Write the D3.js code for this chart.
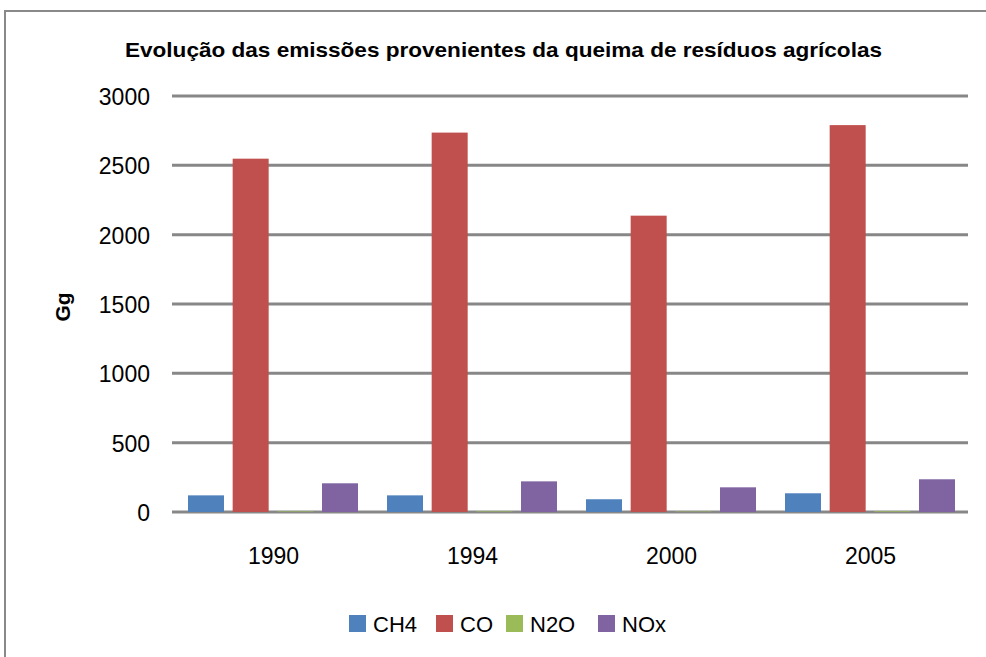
<!DOCTYPE html>
<html lang="pt">
<head>
<meta charset="utf-8">
<script src="https://cdn.jsdelivr.net/npm/d3@7"></script>
<style type="text/css">
body {
	margin: 0;
	background-color: #ffffff;
	font-family: 'Liberation Sans', Arial, sans-serif;
}
.grid line {
	stroke: #878787;
	stroke-width: 3;
}
.axis text {
	fill: #000;
}
</style>
</head>
<body>
<script type="text/javascript">

// data (Gg)
var years = ["1990", "1994", "2000", "2005"];
var series = ["CH4", "CO", "N2O", "NOx"];
var ch4 = [120, 120, 92, 135];
var co = [2548, 2736, 2137, 2790];
var n2o = [4, 4, 3, 5];
var nox = [207, 221, 178, 236];
var yTicks = [0, 500, 1000, 1500, 2000, 2500, 3000];
var colors = ["#4F81BD", "#C0504D", "#9BBB59", "#8064A2"];

var values = { CH4: ch4, CO: co, N2O: n2o, NOx: nox };

var width = 986, height = 657;

var svg = d3.select("body")
	.append("svg")
	.attr("width", width)
	.attr("height", height);

// chart frame
svg.append("rect")
	.attr("x", 5)
	.attr("y", 11)
	.attr("width", 1000)
	.attr("height", 700)
	.style("fill", "none")
	.style("stroke", "#898989")
	.style("stroke-width", 2);

// title
svg.append("text")
	.attr("x", 125)
	.attr("y", 57)
	.attr("textLength", 757)
	.attr("lengthAdjust", "spacingAndGlyphs")
	.style("font-size", "21px")
	.style("font-weight", "bold")
	.text("Evolução  das emissões provenientes da queima de resíduos agrícolas");

var x0 = d3.scaleBand()
	.domain(years)
	.range([172, 968])
	.padding(0);

var x1 = d3.scaleBand()
	.domain(series)
	.range([16, 186])
	.paddingInner(0.194)
	.paddingOuter(0);

var y = d3.scaleLinear()
	.domain([0, 3000])
	.range([512, 96]);

// gridlines
svg.append("g")
	.attr("class", "grid")
	.selectAll("line")
	.data(yTicks)
	.enter()
	.append("line")
	.attr("x1", 172)
	.attr("x2", 968)
	.attr("y1", function(d) { return y(d); })
	.attr("y2", function(d) { return y(d); });

// y axis labels
var yAxis = d3.axisLeft(y).tickValues(yTicks).tickFormat(d3.format("d")).tickSize(0).tickPadding(22);
svg.append("g")
	.attr("class", "axis")
	.attr("transform", "translate(172,0)")
	.call(yAxis)
	.call(function(g) { g.select(".domain").remove(); })
	.selectAll("text")
	.style("font-family", "'Liberation Sans', Arial, sans-serif")
	.style("font-size", "23px")
	.attr("dy", "0.37em");

// bars
var groups = svg.append("g")
	.selectAll("g")
	.data(years)
	.enter()
	.append("g")
	.attr("transform", function(d) { return "translate(" + x0(d) + ",0)"; });

groups.selectAll("rect")
	.data(function(d, i) {
		return series.map(function(s, k) { return { key: s, value: values[s][i], color: colors[k] }; });
	})
	.enter()
	.append("rect")
	.attr("x", function(d) { return x1(d.key); })
	.attr("width", x1.bandwidth())
	.attr("y", function(d) { return y(d.value); })
	.attr("height", function(d) { return y(0) - y(d.value); })
	.style("fill", function(d) { return d.color; });

// x axis labels
var xAxis = d3.axisBottom(x0).tickSize(0).tickPadding(0);
svg.append("g")
	.attr("class", "axis")
	.attr("transform", "translate(2,0)")
	.call(xAxis)
	.call(function(g) { g.select(".domain").remove(); })
	.selectAll("text")
	.style("font-family", "'Liberation Sans', Arial, sans-serif")
	.style("font-size", "23px")
	.attr("y", 564)
	.attr("dy", 0);

// y axis title
svg.append("text")
	.attr("transform", "translate(70,307) rotate(-90)")
	.attr("text-anchor", "middle")
	.style("font-size", "21px")
	.style("font-weight", "bold")
	.text("Gg");

// legend
var legendX = [349, 436, 506, 598];
var legend = svg.append("g")
	.selectAll("g")
	.data(series)
	.enter()
	.append("g")
	.attr("transform", function(d, i) { return "translate(" + legendX[i] + ",615)"; });

legend.append("rect")
	.attr("width", 17)
	.attr("height", 17)
	.style("fill", function(d, i) { return colors[i]; });

legend.append("text")
	.attr("x", 24)
	.attr("y", 17)
	.style("font-size", "22px")
	.text(function(d) { return d; });

</script>
</body>
</html>
